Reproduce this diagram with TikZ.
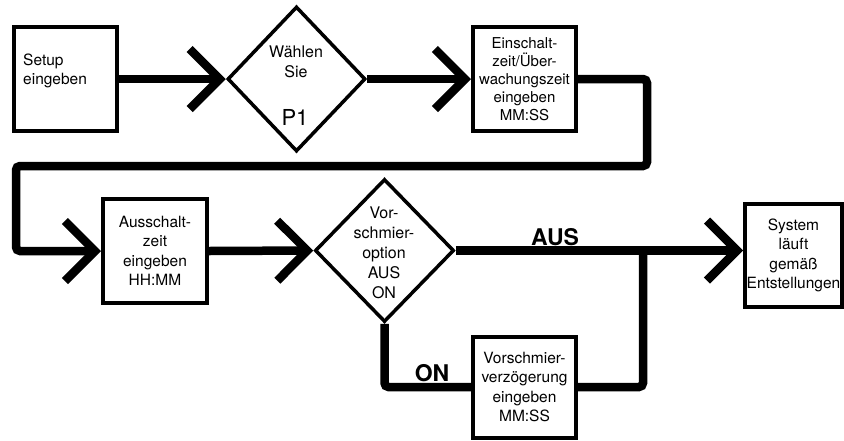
\documentclass[tikz,border=0pt]{standalone}
\usepackage{fontspec}
\setmainfont{TeX Gyre Heros}
\usetikzlibrary{arrows.meta,shapes.geometric}

\begin{document}
\begin{tikzpicture}[
  x=1pt,y=-1pt,
  box/.style={rectangle,draw,line width=4pt,inner sep=0pt,align=center,font=\fontsize{15.5}{19.5}\selectfont},
  choice/.style={diamond,draw,line width=3.5pt,inner sep=0pt,minimum width=138pt,minimum height=145pt},
  txt/.style={inner sep=0pt,align=center,font=\fontsize{16}{20}\selectfont},
  tag/.style={inner sep=0pt,font=\fontsize{23}{26}\selectfont\bfseries},
  flow/.style={line width=8.5pt,rounded corners=4pt},
  arrow/.style={flow,-{Straight Barb[length=30pt,width=60pt,line width'=8.5pt]}}
]
\useasboundingbox (0,0) rectangle (844,440);

% Upper row
\node[box,minimum width=103pt,minimum height=104pt] (setup) at (65.5,79) {};
\node[txt,align=left,anchor=west,font=\fontsize{15.5}{19.5}\selectfont] (setuptxt) at (23,71) {Setup\\eingeben};

\node[choice] (waehlen) at (296.5,79) {};
\node[txt] (waehlentxt) at (296,62) {Wählen\\Sie};
\node[inner sep=0pt,font=\fontsize{22}{24}\selectfont,anchor=base] (p1) at (295,125) {P1};

\node[box,minimum width=103pt,minimum height=104pt,font=\fontsize{15}{18}\selectfont] (einschalt) at (524.5,79) {Einschalt-\\zeit/Über-\\wachungszeit\\eingeben\\MM:SS};

% Lower row
\node[box,minimum width=104pt,minimum height=104pt] (aus) at (155,251) {Ausschalt-\\zeit\\eingeben\\HH:MM};

\node[choice,minimum width=139pt,minimum height=143pt] (vorschmier) at (384.5,250.5) {};
\node[txt] (vorschmiertxt) at (384,253) {Vor-\\schmier-\\option\\AUS\\ON};

\node[box,minimum width=103pt,minimum height=101pt] (verzoegerung) at (524.5,387) {Vorschmier-\\verzögerung\\eingeben\\MM:SS};

\node[box,minimum width=97pt,minimum height=103pt] (system) at (793.5,255.5) {System\\läuft\\gemäß\\Entstellungen};

% Bends
\coordinate (turnR) at (647,166);
\coordinate (turnL) at (16,166);
\coordinate (join) at (643,250.5);

% Connectors
\draw[arrow] (setup.east) -- (waehlen.west);
\draw[arrow] (waehlen.east) -- (einschalt.west);
\draw[arrow] (einschalt.east) -| (turnR) -- (turnL) |- (aus.west);
\draw[arrow] (aus.east) -- (vorschmier.west);
\draw[arrow] (vorschmier.east) -- (vorschmier.east -| system.west);
\draw[flow] (vorschmier.south) |- (verzoegerung.west);
\draw[flow] (verzoegerung.east) -| (join);

% Branch labels
\node[tag] (auslabel) at (555,237) {AUS};
\node[tag] (onlabel) at (432,373.5) {ON};

\end{tikzpicture}
\end{document}
